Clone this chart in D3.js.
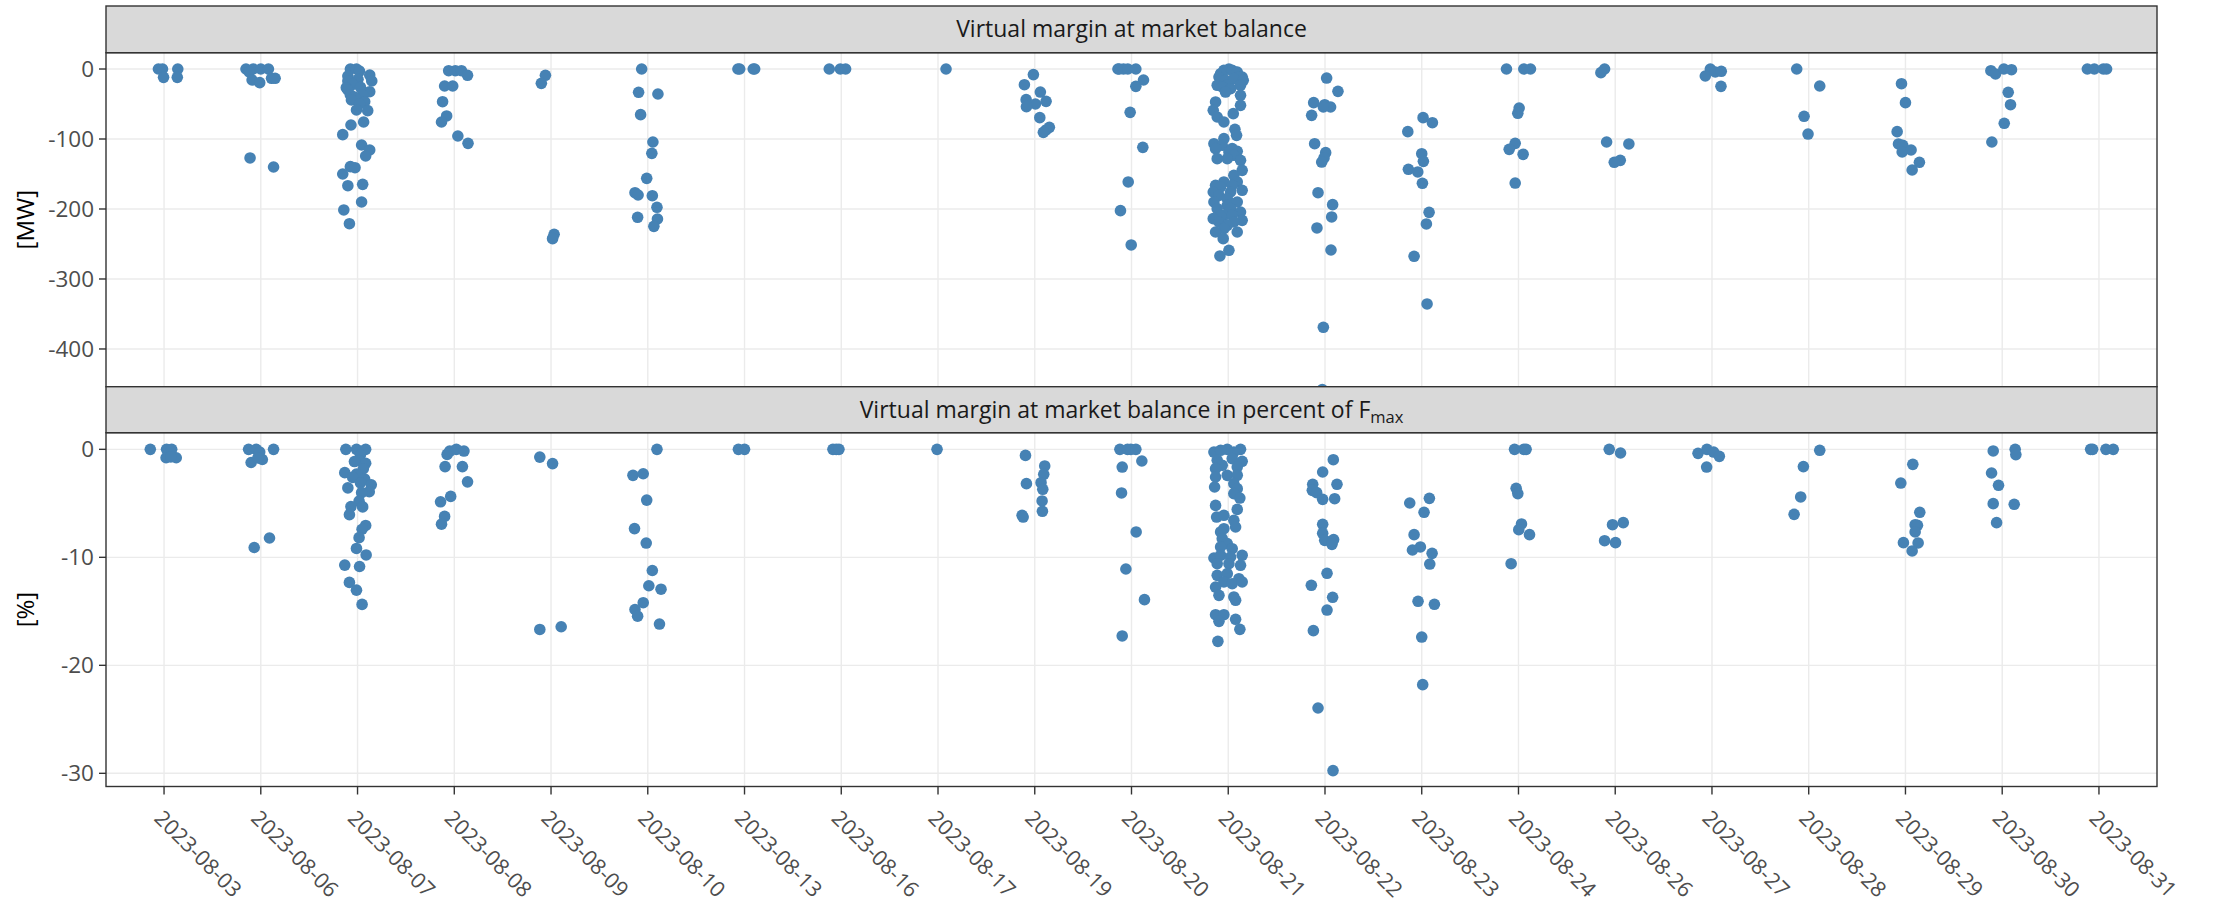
<!DOCTYPE html>
<html><head><meta charset="utf-8">
<script src="https://cdn.jsdelivr.net/npm/d3@7"></script>
<style>body{margin:0;background:#fff}svg{display:block}text{font-family:"Open Sans",sans-serif}</style>
</head><body>
<script>
// ---------- data ----------
const dates = ["2023-08-03","2023-08-06","2023-08-07","2023-08-08","2023-08-09","2023-08-10","2023-08-13","2023-08-16","2023-08-17","2023-08-19","2023-08-20","2023-08-21","2023-08-22","2023-08-23","2023-08-24","2023-08-26","2023-08-27","2023-08-28","2023-08-29","2023-08-30","2023-08-31"];

const panelTitles = ["Virtual margin at market balance", "Virtual margin at market balance in percent of "];
const yTitles = ["[MW]", "[%]"];
const mwTicks = [0,-100,-200,-300,-400];
const mwTickLabels = ["0","-100","-200","-300","-400"];
const pctTicks = [0,-10,-20,-30];
const pctTickLabels = ["0","-10","-20","-30"];

// [jitter (fraction of category step), value] per date, same order as dates
const mwValues = [
 [[-0.058,0],[-0.016,0],[0.142,0],[-0.005,-11.9],[0.137,-11.9]],
 [[-0.153,0],[-0.079,0],[0,0],[0.079,0],[-0.12,-4],[-0.09,-15.7],[-0.011,-19.5],[0.111,-13.3],[0.148,-13.3],[-0.111,-127.1],[0.132,-140]],
 [[-0.074,0],[-0.011,0],[0.02,-3],[-0.1,-10],[0.126,-8.6],[0.005,-14.8],[0.147,-17.1],[-0.1,-17.1],[-0.05,-22],[0.03,-26],[-0.116,-26.7],[-0.1,-30],[0.126,-32.4],[-0.074,-37.1],[0.053,-37.1],[-0.03,-40],[-0.063,-44.3],[0.074,-46.7],[0.02,-50],[-0.011,-58.6],[0.105,-59.5],[0.063,-75.7],[-0.068,-80],[-0.153,-93.8],[0.042,-108.6],[0.126,-115.7],[0.084,-124.3],[-0.074,-139.5],[-0.026,-141],[-0.153,-150],[-0.1,-166.7],[0.053,-164.8],[0.042,-190],[-0.142,-201.4],[-0.084,-221]],
 [[-0.058,-2.4],[0.011,-2.4],[0.074,-2.4],[0.137,-9],[-0.1,-24.3],[-0.016,-24.3],[-0.121,-46.7],[-0.079,-67.1],[-0.132,-75.7],[0.037,-95.7],[0.142,-106.2]],
 [[-0.058,-9],[-0.1,-20.5],[0.032,-236.2],[0.016,-242.4]],
 [[-0.063,0],[-0.095,-33.3],[0.105,-35.7],[-0.074,-65.2],[0.053,-104.3],[0.042,-120.5],[-0.011,-156.2],[-0.132,-176.7],[-0.1,-180],[0.047,-181],[0.095,-197.6],[-0.105,-211.9],[0.1,-214.3],[0.063,-224.8]],
 [[-0.068,0],[-0.05,0],[0.09,0],[0.105,0]],
 [[-0.124,0],[-0.01,0],[0.045,0]],
 [[0.083,0]],
 [[-0.014,-8],[-0.107,-22.4],[0.058,-32.9],[-0.089,-43.8],[0.117,-46.2],[0.007,-50],[-0.086,-53.8],[0.052,-69.5],[0.151,-83.3],[0.117,-87.1],[0.089,-90.5]],
 [[-0.14,0],[-0.127,0],[-0.083,0],[-0.038,0],[0.045,0],[0.124,-15.7],[0.045,-24.8],[-0.014,-61.9],[0.117,-111.9],[-0.034,-161.4],[-0.114,-202.4],[-0.003,-251.4]],
 [[0.007,0],[-0.045,-1.9],[0.041,-1.9],[-0.079,-6.7],[0.093,-4.3],[0.144,-11.4],[-0.096,-11.4],[0.11,-11.4],[-0.028,-16.2],[0.058,-13.8],[0.155,-16.2],[-0.114,-23.3],[-0.01,-23.3],[0.127,-23.3],[-0.062,-25.7],[0.024,-28.1],[-0.028,-32.9],[0.127,-37.6],[-0.131,-47.1],[0.127,-51.9],[-0.155,-59],[-0.114,-68.6],[0.052,-63.8],[-0.045,-75.7],[0.069,-86.2],[0.086,-94.8],[-0.045,-99.5],[-0.148,-106.7],[-0.062,-109],[-0.131,-113.8],[0.041,-113.8],[0.093,-117.6],[0.007,-118.6],[0.058,-123.3],[-0.114,-128.1],[-0.01,-128.1],[0.127,-130.5],[0.144,-144.8],[0.058,-151.9],[-0.045,-161.4],[0.093,-161.4],[-0.131,-166.2],[-0.079,-168.6],[0.041,-166.2],[0.144,-173.3],[0.024,-175.7],[-0.155,-175.7],[-0.096,-180.5],[-0.01,-185.2],[-0.148,-190],[0.093,-190],[-0.01,-194.8],[-0.114,-199.5],[0.024,-199.5],[0.127,-204.3],[-0.045,-209],[-0.079,-210],[0.041,-209],[-0.155,-213.8],[0.144,-216.2],[-0.096,-218.6],[0.058,-218.6],[-0.01,-223.3],[-0.045,-228.1],[-0.131,-232.9],[0.093,-232.9],[-0.052,-242.4],[0.007,-259],[-0.086,-267.1]],
 [[0.017,-12.9],[0.134,-31.9],[-0.117,-48.1],[-0.003,-51],[0.058,-54.3],[-0.017,-54.3],[-0.138,-66.2],[-0.107,-106.7],[0.007,-119.5],[-0.01,-127.1],[-0.034,-132.9],[-0.072,-176.7],[0.079,-193.8],[0.069,-211.4],[-0.083,-227.1],[0.062,-258.6],[-0.017,-369],[-0.028,-458]],
 [[0.014,-69.5],[0.11,-76.7],[-0.144,-89.5],[0,-121],[0.017,-131.9],[-0.138,-143.3],[-0.041,-147.1],[0.007,-163.3],[0.076,-204.8],[0.048,-221.4],[-0.079,-267.6],[0.055,-335.7]],
 [[-0.124,0],[0.055,0],[0.124,0],[0.007,-55.7],[-0.007,-63.3],[-0.034,-106.2],[-0.096,-114.8],[0.048,-121.9],[-0.034,-162.9]],
 [[-0.11,0],[-0.148,-5.2],[-0.089,-104.3],[0.141,-107.1],[0.052,-130.5],[-0.01,-133.3]],
 [[-0.017,0],[-0.069,-10],[0.034,-4.3],[0.096,-3.3],[0.093,-24.8]],
 [[-0.124,0],[0.114,-24.3],[-0.048,-67.6],[-0.007,-92.9]],
 [[-0.041,-21],[0,-48.1],[-0.086,-89.5],[-0.072,-107.1],[-0.028,-109],[-0.034,-118.6],[0.058,-115.7],[0.144,-133.3],[0.069,-144.3]],
 [[-0.117,-2.4],[-0.069,-7.1],[0.017,0],[0.096,-1],[0.062,-33.3],[0.086,-51],[0.021,-77.6],[-0.107,-104.3]],
 [[-0.12,0],[-0.048,0],[0.045,0],[0.079,0]]
];

const pctValues = [
 [[-0.142,0],[0.026,0],[0.079,0],[0.021,-0.78],[0.126,-0.78],[0.07,-0.7]],
 [[-0.126,0],[-0.047,0],[0.132,0],[-0.011,-0.25],[0.016,-0.94],[-0.1,-1.22],[-0.03,-0.8],[0.09,-8.21],[-0.068,-9.09]],
 [[-0.121,0],[-0.011,0],[0.084,0],[0.03,-0.5],[0.016,-1.03],[0.084,-1.29],[-0.032,-1.13],[0.06,-1.8],[-0.132,-2.16],[-0.011,-2.29],[-0.05,-2.6],[0.074,-2.76],[0.03,-3.1],[0.142,-3.29],[-0.1,-3.57],[0.121,-3.92],[0.042,-4.01],[0.016,-4.8],[-0.068,-5.3],[0.053,-5.33],[-0.084,-6.05],[0.084,-7.05],[0.047,-7.4],[0.016,-8.18],[-0.011,-9.18],[0.089,-9.78],[-0.132,-10.72],[0.021,-10.85],[-0.084,-12.32],[-0.011,-13.04],[0.047,-14.36]],
 [[-0.074,-0.47],[-0.047,-0.16],[0.021,0],[0.1,-0.16],[-0.095,-1.6],[0.084,-1.6],[0.137,-3.01],[-0.037,-4.36],[-0.142,-4.86],[-0.1,-6.21],[-0.132,-6.93]],
 [[-0.116,-0.72],[0.016,-1.32],[-0.116,-16.68],[0.105,-16.43]],
 [[0.095,0],[-0.153,-2.41],[-0.047,-2.26],[-0.011,-4.7],[-0.137,-7.34],[-0.016,-8.68],[0.047,-11.22],[0.011,-12.63],[0.137,-12.95],[-0.047,-14.2],[-0.132,-14.83],[-0.105,-15.45],[0.121,-16.18]],
 [[-0.063,0],[0,0]],
 [[-0.086,0],[-0.052,0],[-0.024,0]],
 [[-0.01,0]],
 [[-0.096,-0.56],[0.103,-1.54],[0.093,-2.31],[-0.086,-3.18],[0.065,-3.09],[0.083,-3.7],[0.076,-4.78],[0.079,-5.74],[-0.131,-6.11],[-0.12,-6.27]],
 [[-0.12,0],[-0.041,0],[-0.007,0],[0.045,0],[0.107,-1.08],[-0.096,-1.64],[-0.103,-4.04],[0.048,-7.65],[-0.058,-11.08],[0.134,-13.92],[-0.096,-17.28]],
 [[-0.148,-0.25],[-0.01,0],[0.127,0],[-0.079,-0.09],[0.058,-0.25],[-0.114,-1.02],[0.041,-0.86],[0.144,-1.11],[-0.062,-1.48],[-0.131,-1.79],[0.093,-1.64],[-0.131,-2.56],[-0.01,-2.41],[0.093,-2.41],[-0.141,-3.49],[0.058,-3.18],[0.093,-3.64],[0.058,-4.1],[0.12,-4.51],[-0.131,-5.19],[0.093,-5.56],[-0.12,-6.27],[-0.045,-6.11],[0.058,-6.57],[0.076,-7.19],[-0.045,-7.35],[-0.079,-7.65],[-0.062,-8.27],[-0.01,-8.73],[-0.079,-9.04],[0.041,-9.2],[-0.148,-10.06],[-0.079,-9.81],[0.024,-9.97],[0.144,-9.81],[-0.114,-10.59],[0.007,-10.59],[0.127,-10.74],[-0.114,-11.67],[-0.01,-11.51],[0.11,-11.98],[-0.045,-12.28],[0.041,-12.44],[0.144,-12.28],[-0.131,-12.75],[-0.096,-13.52],[0.058,-13.67],[0.076,-13.98],[-0.131,-15.31],[-0.045,-15.31],[-0.096,-15.93],[0.076,-15.74],[0.12,-16.67],[-0.107,-17.78]],
 [[0.086,-0.96],[-0.024,-2.1],[-0.127,-3.24],[-0.131,-3.8],[-0.086,-4.01],[0.124,-3.24],[-0.024,-4.63],[0.1,-4.57],[-0.024,-6.94],[-0.024,-7.78],[-0.003,-8.43],[0.089,-8.36],[0.072,-8.8],[0.021,-11.48],[-0.141,-12.59],[0.079,-13.7],[0.021,-14.88],[-0.12,-16.79],[-0.072,-23.95],[0.083,-29.75]],
 [[0.079,-4.54],[-0.124,-4.97],[0.024,-5.83],[-0.079,-7.9],[-0.014,-9.04],[-0.096,-9.32],[0.107,-9.63],[0.083,-10.62],[-0.038,-14.07],[0.131,-14.35],[0,-17.38],[0.01,-21.79]],
 [[-0.041,0],[0.055,0],[0.079,0],[-0.024,-3.61],[-0.007,-4.1],[0.031,-6.91],[0.003,-7.44],[0.114,-7.9],[-0.076,-10.59]],
 [[-0.062,0],[0.055,-0.34],[-0.028,-6.98],[0.083,-6.79],[-0.11,-8.46],[0.003,-8.64]],
 [[-0.144,-0.37],[-0.052,0],[0.017,-0.25],[0.076,-0.65],[-0.055,-1.64]],
 [[0.114,-0.09],[-0.055,-1.6],[-0.083,-4.41],[-0.151,-6.02]],
 [[0.076,-1.39],[-0.048,-3.12],[0.148,-5.83],[0.1,-6.98],[0.124,-7.04],[0.1,-7.65],[-0.021,-8.64],[0.131,-8.67],[0.069,-9.41]],
 [[-0.093,-0.15],[0.134,0],[0.141,-0.49],[-0.11,-2.19],[-0.038,-3.33],[-0.093,-5.03],[0.124,-5.09],[-0.058,-6.79]],
 [[-0.086,0],[-0.065,0],[0.072,0],[0.148,0]]
];

// ---------- layout ----------
const W = 2213, H = 909;
const left = 106, right = 2157;
const layout = [
  {stripTop: 6, top: 52.7, bottom: 386.7, domain: [-453.9, 23.3], ticks: mwTicks, labels: mwTickLabels, values: mwValues, ytitle: yTitles[0], title: panelTitles[0], sub: null},
  {stripTop: 386.7, top: 432.7, bottom: 786.5, domain: [-31.22, 1.54], ticks: pctTicks, labels: pctTickLabels, values: pctValues, ytitle: yTitles[1], title: panelTitles[1], sub: "max"}
];

const svg = d3.select("body").append("svg").attr("width", W).attr("height", H);
svg.append("rect").attr("width", W).attr("height", H).attr("fill", "#fff");

const x = d3.scalePoint().domain(dates).range([left, right]).padding(0.6);
const step = x.step();

layout.forEach((p, i) => {
  const y = d3.scaleLinear().domain(p.domain).range([p.bottom, p.top]);
  const g = svg.append("g");
  g.selectAll(".gy").data(p.ticks).join("line")
    .attr("x1", left).attr("x2", right).attr("y1", d => y(d)).attr("y2", d => y(d))
    .attr("stroke", "#EBEBEB").attr("stroke-width", 1.4);
  g.selectAll(".gx").data(dates).join("line")
    .attr("x1", d => x(d)).attr("x2", d => x(d)).attr("y1", p.top).attr("y2", p.bottom)
    .attr("stroke", "#EBEBEB").attr("stroke-width", 1.4);
  const cid = "clip" + i;
  svg.append("clipPath").attr("id", cid).append("rect")
    .attr("x", left).attr("y", p.top).attr("width", right - left).attr("height", p.bottom - p.top);
  const pts = [];
  p.values.forEach((arr, di) => arr.forEach(([j, v]) => pts.push({d: dates[di], j, v})));
  g.append("g").attr("clip-path", `url(#${cid})`).selectAll("circle").data(pts).join("circle")
    .attr("cx", d => x(d.d) + d.j * step).attr("cy", d => y(d.v)).attr("r", 5.8)
    .attr("fill", "#4682B4");
  g.append("rect").attr("x", left).attr("y", p.top).attr("width", right - left).attr("height", p.bottom - p.top)
    .attr("fill", "none").attr("stroke", "#333333").attr("stroke-width", 1.4);
  g.append("rect").attr("x", left).attr("y", p.stripTop).attr("width", right - left).attr("height", p.top - p.stripTop)
    .attr("fill", "#D9D9D9").attr("stroke", "#333333").attr("stroke-width", 1.4);
  const st = g.append("text").attr("x", (left + right) / 2).attr("y", (p.stripTop + p.top) / 2 + 8)
    .attr("text-anchor", "middle").attr("font-size", 23).attr("fill", "#1A1A1A").text(p.title);
  if (p.sub) {
    st.append("tspan").text("F");
    st.append("tspan").attr("font-size", 16.5).attr("dy", 5).text(p.sub);
  }
  const ya = g.append("g");
  ya.selectAll("line").data(p.ticks).join("line")
    .attr("x1", left - 7).attr("x2", left).attr("y1", d => y(d)).attr("y2", d => y(d))
    .attr("stroke", "#333333").attr("stroke-width", 1.4);
  ya.selectAll("text").data(p.ticks).join("text")
    .attr("x", left - 12).attr("y", d => y(d)).attr("dy", "0.36em")
    .attr("text-anchor", "end").attr("font-size", 22.5).attr("fill", "#4D4D4D")
    .text((d, k) => p.labels[k]);
  g.append("text").attr("transform", `translate(26,${(p.top + p.bottom) / 2}) rotate(-90)`)
    .attr("text-anchor", "middle").attr("dy", "0.35em").attr("font-size", 24).attr("fill", "#000").text(p.ytitle);
});

const bottom = layout[1].bottom;
const xa = svg.append("g");
xa.selectAll("line").data(dates).join("line")
  .attr("x1", d => x(d)).attr("x2", d => x(d)).attr("y1", bottom).attr("y2", bottom + 8)
  .attr("stroke", "#333333").attr("stroke-width", 1.4);
xa.selectAll("text").data(dates).join("text")
  .attr("transform", d => `translate(${x(d)},${bottom + 22}) rotate(45)`)
  .attr("dy", "0.72em").attr("text-anchor", "start").attr("font-size", 21.5).attr("fill", "#4D4D4D")
  .text(d => d);
</script>
</body></html>
